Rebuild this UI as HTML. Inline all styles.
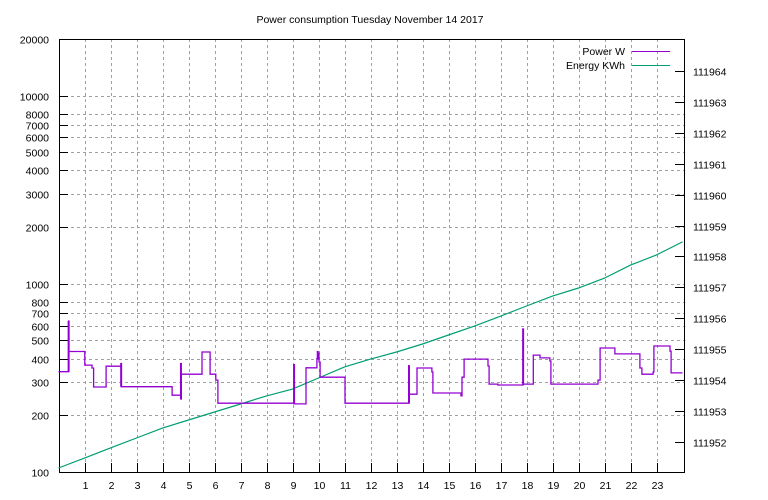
<!DOCTYPE html>
<html><head><meta charset="utf-8"><style>
body{margin:0;background:#fff}
svg{display:block;font-family:"Liberation Sans",sans-serif;font-size:10.5px}
</style></head><body>
<svg id="chart" width="768" height="500"></svg>
<script>
const powerHours=[0,0.39,0.40,1.01,1.29,1.35,1.83,2.40,2.41,4.37,4.71,4.72,4.94,5.52,5.56,5.83,6.05,6.13,9.06,9.52,9.94,9.97,10.02,10.06,11.02,13.48,13.79,13.83,14.36,14.40,15.48,15.52,15.60,16.52,16.56,16.90,17.87,17.88,18.26,18.52,18.90,18.94,20.75,20.83,21.40,22.36,22.44,22.87,22.90,23.52,23.56,24];
const powerValues=[341,634,437,370,357,283,365,362,284,256,244,331,331,434,434,331,308,232,230,358,400,428,384,319,232,259,357,357,340,263,254,319,398,366,293,290,293,293,418,404,389,293,308,456,424,357,331,340,467,439,336,336];
const spikeHours=[0.39,2.41,4.71,5.52,9.06,9.97,13.48,17.87];
const spikeValues=[634,380,380,330,375,440,370,580];
const energyHours=[0,1,2,3,4,5,6,7,8,9,10,11,12,13,14,15,16,17,18,19,20,21,22,23,24];
const energyValues=[111951.16,111951.48,111951.81,111952.13,111952.45,111952.71,111952.97,111953.23,111953.49,111953.71,111954.07,111954.43,111954.68,111954.91,111955.17,111955.46,111955.75,111956.07,111956.40,111956.72,111956.98,111957.30,111957.72,111958.05,111958.47];
const leftTicks=[100,200,300,400,500,600,700,800,1000,2000,3000,4000,5000,6000,7000,8000,10000,20000];
const rightTicks=[111952,111953,111954,111955,111956,111957,111958,111959,111960,111961,111962,111963,111964];
const xTicks=[1,2,3,4,5,6,7,8,9,10,11,12,13,14,15,16,17,18,19,20,21,22,23];

const L=59,R=684,T=39,B=472;
const NS="http://www.w3.org/2000/svg";
const svg=document.getElementById('chart');
const X=h=>58.5+h*26;
const Y=v=>B-(Math.log10(v)-2)*188.2;
const Y2=e=>442-(e-111952)*30.92;
function mk(tag,attrs,parent){const e=document.createElementNS(NS,tag);for(const k in attrs)e.setAttribute(k,attrs[k]);(parent||svg).appendChild(e);return e;}

const t=mk('text',{x:370,y:23,'text-anchor':'middle'});


t.textContent='Power consumption Tuesday November 14 2017';

const grid=mk('g',{stroke:'#a0a0a0','stroke-dasharray':'3,3','stroke-width':1});


leftTicks.forEach(v=>{const y=Math.round(Y(v))+0.5;mk('line',{x1:L,x2:R,y1:y,y2:y},grid);});
xTicks.forEach(h=>{const x=Math.round(X(h))+0.5;mk('line',{x1:x,x2:x,y1:T,y2:B},grid);});

const ax=mk('g',{stroke:'#000','stroke-width':1});


mk('rect',{x:L+0.5,y:T+0.5,width:R-L,height:B-T,fill:'none'},ax);
const yl=mk('g',{'text-anchor':'end'});


leftTicks.forEach(v=>{const y=Math.round(Y(v))+0.5;mk('line',{x1:L,x2:L+9,y1:y,y2:y},ax);
 const tx=mk('text',{x:L-10,y:y+4},yl);tx.textContent=v;});
const yr=mk('g',{'text-anchor':'start'});


rightTicks.forEach(v=>{const y=Math.round(Y2(v))+0.5;mk('line',{x1:R-9,x2:R,y1:y,y2:y},ax);
 const tx=mk('text',{x:R+9,y:y+4},yr);tx.textContent=v;});
const xl=mk('g',{'text-anchor':'middle'});


xTicks.forEach(h=>{const x=Math.round(X(h))+0.5;mk('line',{x1:x,x2:x,y1:B-9,y2:B},ax);
 const tx=mk('text',{x:x,y:B+17},xl);tx.textContent=h;});

// energy
let d='';energyHours.forEach((h,i)=>{d+=(i?'L':'M')+X(h).toFixed(1)+','+Y2(energyValues[i]).toFixed(1);});
const el=mk('path',{d:d,fill:'none',stroke:'#009e73','stroke-width':1.2});



// power step
let p='';powerHours.forEach((h,i)=>{const x=X(h).toFixed(1),y=Y(powerValues[i]).toFixed(1);
 if(i===0)p+='M'+x+','+y;else p+='H'+x+'V'+y;});
const pl=mk('path',{d:p,fill:'none',stroke:'#9400d3','stroke-width':1.3});


const sg=mk('g',{stroke:'#9400d3','stroke-width':2});


spikeHours.forEach((h,i)=>{const x=X(h);let k=0;for(let j=0;j<powerHours.length;j++)if(powerHours[j]<=h)k=j;
 mk('line',{x1:x,x2:x,y1:Y(spikeValues[i]),y2:Y(Math.min(powerValues[k],powerValues[Math.max(0,k-1)]))},sg);});

// legend
const lg=mk('g',{'text-anchor':'end'});


const e1=mk('text',{x:625,y:55},lg);e1.textContent='Power W';


mk('line',{x1:632,x2:670,y1:51.5,y2:51.5,stroke:'#9400d3'},lg);
const e2=mk('text',{x:625,y:69},lg);e2.textContent='Energy KWh';


mk('line',{x1:632,x2:670,y1:65.5,y2:65.5,stroke:'#009e73'},lg);
</script>
</body></html>
